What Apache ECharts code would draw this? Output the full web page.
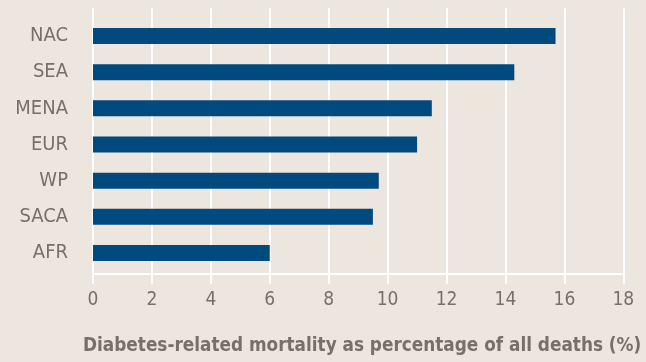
<!DOCTYPE html>
<html>
<head>
<meta charset="utf-8">
<script src="https://cdn.jsdelivr.net/npm/echarts@6/dist/echarts.min.js"></script>
<style>
  html, body { margin: 0; padding: 0; background: #ede6de; }
  #chart { width: 646px; height: 362px; }
</style>
</head>
<body>
<div id="chart"></div>
<script>
// Regions, listed bottom to top as the category axis draws them
const regions = ['AFR', 'SACA', 'WP', 'EUR', 'MENA', 'SEA', 'NAC'];
// Diabetes-related deaths as a share of all deaths (%)
const mortalityShare = [6.0, 9.5, 9.7, 11.0, 11.5, 14.3, 15.7];
// Value axis ticks
const xTicks = [0, 2, 4, 6, 8, 10, 12, 14, 16, 18];
const axisTitle = 'Diabetes-related mortality as percentage of all deaths (%)';

const textColor = '#77706a';
const barColor = '#004a80';
const fontFamily = '"DejaVu Sans Condensed", "DejaVu Sans", sans-serif';

const chart = echarts.init(document.getElementById('chart'));
chart.setOption({
  backgroundColor: '#ede6de',
  animation: false,
  grid: [
    // frame for gridlines, axis line and tick labels
    { left: 93, right: 22.7, top: 8, bottom: 88.3, containLabel: false, outerBoundsMode: 'none' },
    // frame for the bars and region labels
    { left: 93, right: 22.7, top: 18, bottom: 91, containLabel: false, outerBoundsMode: 'none' }
  ],
  xAxis: [
    {
      gridIndex: 0,
      type: 'value',
      min: xTicks[0],
      max: xTicks[xTicks.length - 1],
      interval: 2,
      axisLine: { show: true, lineStyle: { color: '#ffffff', width: 2 } },
      axisTick: { show: true, length: 10, lineStyle: { color: '#ffffff', width: 2 } },
      splitLine: { show: true, lineStyle: { color: '#ffffff', width: 2 } },
      axisLabel: { color: textColor, fontSize: 19, fontFamily: fontFamily, margin: 17 },
      name: axisTitle,
      nameLocation: 'middle',
      nameGap: 63,
      nameTextStyle: { color: textColor, fontSize: 18.8, fontWeight: 'bold', fontFamily: fontFamily, padding: [0, 0, 0, 8] }
    },
    {
      gridIndex: 1,
      type: 'value',
      min: xTicks[0],
      max: xTicks[xTicks.length - 1],
      show: false
    }
  ],
  yAxis: [
    { gridIndex: 0, type: 'category', data: regions, show: false },
    {
      gridIndex: 1,
      type: 'category',
      data: regions,
      axisLine: { show: false },
      axisTick: { show: false },
      splitLine: { show: false },
      axisLabel: { color: textColor, fontSize: 20, fontFamily: fontFamily, margin: 25 }
    }
  ],
  series: [
    {
      type: 'bar',
      xAxisIndex: 1,
      yAxisIndex: 1,
      data: mortalityShare,
      barWidth: 16,
      itemStyle: { color: barColor },
      silent: true
    }
  ]
});
</script>
</body>
</html>
